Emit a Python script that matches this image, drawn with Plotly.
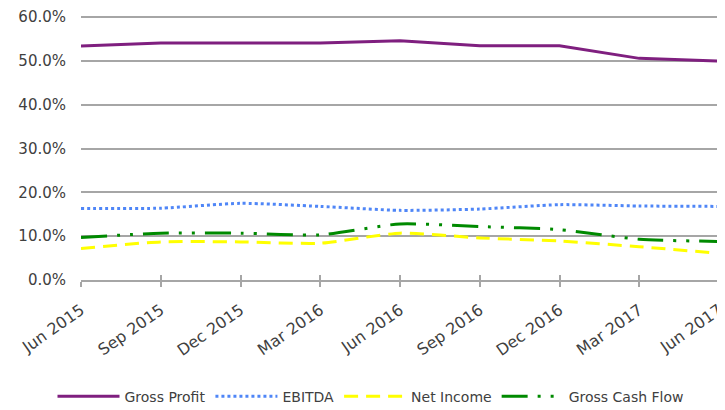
import plotly.graph_objects as go

periods = ["Jun 2015", "Sep 2015", "Dec 2015", "Mar 2016", "Jun 2016",
           "Sep 2016", "Dec 2016", "Mar 2017", "Jun 2017"]
gross_profit = [0.534, 0.541, 0.541, 0.541, 0.546, 0.535, 0.535, 0.506, 0.500]
ebitda = [0.163, 0.164, 0.175, 0.168, 0.159, 0.162, 0.172, 0.169, 0.168]
net_income = [0.072, 0.087, 0.087, 0.084, 0.107, 0.096, 0.089, 0.076, 0.061]
gross_cash_flow = [0.097, 0.107, 0.107, 0.103, 0.128, 0.122, 0.115, 0.093, 0.088]

FONT = "DejaVu Sans"
TXT = "#404040"

fig = go.Figure()
fig.add_trace(go.Scatter(x=periods, y=gross_profit, name="Gross Profit", mode="lines",
                         line=dict(color="#7F1F7F", width=3)))
fig.add_trace(go.Scatter(x=periods, y=ebitda, name="EBITDA", mode="lines",
                         line=dict(color="#4F86F7", width=3, dash="3px,3px", shape="spline", smoothing=0.6)))
fig.add_trace(go.Scatter(x=periods, y=net_income, name="Net Income", mode="lines",
                         line=dict(color="#FFFF00", width=3, dash="14px,8px", shape="spline", smoothing=0.6)))
fig.add_trace(go.Scatter(x=periods, y=gross_cash_flow, name="Gross Cash Flow", mode="lines",
                         line=dict(color="#008A00", width=3, dash="26px,10px,3px,10px,3px,10px",
                                   shape="spline", smoothing=0.6)))
# trace on overlay axis so that upward tick marks are drawn too
fig.add_trace(go.Scatter(x=periods, y=[0] * len(periods), xaxis="x2", yaxis="y",
                         showlegend=False, hoverinfo="skip", mode="lines",
                         line=dict(width=0, color="rgba(0,0,0,0)")))

# page body has an 8px margin, compensated here
fig.update_layout(
    width=725, height=410,
    margin=dict(l=73, r=14, t=7, b=138, autoexpand=False),
    paper_bgcolor="white", plot_bgcolor="white",
    font=dict(family=FONT, size=15, color=TXT),
    xaxis=dict(type="category", range=[0, len(periods) - 1], tickangle=-35,
               showgrid=False, showline=True, linecolor="#A6A6A6", linewidth=1.5,
               ticks="outside", ticklen=5, tickcolor="#A6A6A6", tickwidth=1.5,
               automargin=False, ticklabelstandoff=8, ticklabeloverflow="allow",
               tickfont=dict(family=FONT, size=16, color=TXT)),
    xaxis2=dict(type="category", range=[0, len(periods) - 1], overlaying="x", anchor="y",
                showticklabels=False, showgrid=False, ticks="inside", ticklen=5,
                tickcolor="#A6A6A6", tickwidth=1.5, side="bottom", automargin=False),
    yaxis=dict(range=[0, 0.605], tickvals=[0, 0.1, 0.2, 0.3, 0.4, 0.5, 0.6],
               tickformat=".1%", showgrid=True,
               gridcolor="#A6A6A6", gridwidth=1.5, zeroline=False, ticks="",
               automargin=False, ticklabelstandoff=14, ticklabeloverflow="allow",
               tickfont=dict(family=FONT, size=15, color=TXT)),
    legend=dict(orientation="h", xref="container", x=0.5, xanchor="center",
                y=-0.38, yanchor="top",
                font=dict(family=FONT, size=14, color=TXT), itemwidth=62,
                traceorder="normal"),
    showlegend=True,
)

fig.write_html("out.html")
